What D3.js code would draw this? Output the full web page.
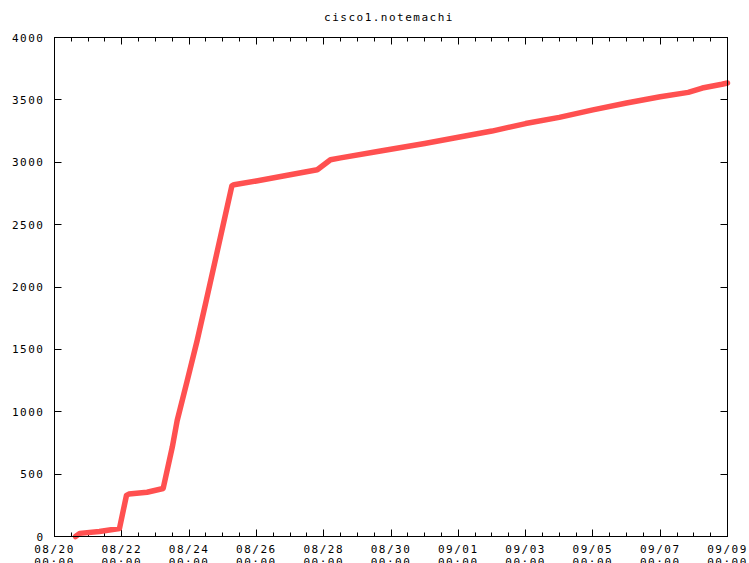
<!DOCTYPE html>
<html>
  <head>
    <title>cisco1.notemachi</title>
    <script src="https://d3js.org/d3.v7.js"></script>
    <style>
      body { margin: 0; background: #fff; }
      text { font-family: 'DejaVu Sans Mono', monospace; font-size: 11px; letter-spacing: 1.5px; fill: #000; }
    </style>
  </head>
  <body>
    <svg width="749" height="563"></svg>

    <script>
      (function (d3) {
        'use strict';

        const titleText = 'cisco1.notemachi';

        // sample times and counter values
        const times = [
          '2024-08-20T15:00', '2024-08-20T18:00', '2024-08-21T08:00', '2024-08-21T22:20',
          '2024-08-22T03:20', '2024-08-22T05:00', '2024-08-22T18:00', '2024-08-23T05:30',
          '2024-08-23T12:00', '2024-08-23T15:30', '2024-08-23T22:40', '2024-08-24T05:45',
          '2024-08-24T12:15', '2024-08-25T06:30', '2024-08-25T08:00', '2024-08-26T00:00',
          '2024-08-27T00:00', '2024-08-27T19:25', '2024-08-28T04:50', '2024-08-28T12:00',
          '2024-08-29T16:30', '2024-08-31T00:00', '2024-09-01T00:00', '2024-09-02T00:00',
          '2024-09-03T00:00', '2024-09-04T00:00', '2024-09-05T00:00', '2024-09-06T00:00',
          '2024-09-07T00:00', '2024-09-07T20:00', '2024-09-08T06:00', '2024-09-08T20:00',
          '2024-09-09T00:00'
        ];
        const values = [
          0, 25, 40, 64,
          330, 340, 355, 385,
          716, 930, 1250, 1571,
          1892, 2810, 2820, 2850,
          2900, 2940, 3020, 3035,
          3090, 3150, 3200, 3250,
          3310, 3360, 3420, 3475,
          3525, 3560, 3595, 3625,
          3635
        ];

        const yTicks = [0, 500, 1000, 1500, 2000, 2500, 3000, 3500, 4000];

        const parse = d3.timeParse('%Y-%m-%dT%H:%M');
        const data = times.map((t, i) => ({ t: parse(t), v: values[i] }));

        const svg = d3.select('svg');
        const margin = { top: 37, right: 22, bottom: 27, left: 54 };
        const width = +svg.attr('width');
        const height = +svg.attr('height');
        const innerWidth = width - margin.left - margin.right;
        const innerHeight = height - margin.top - margin.bottom;

        const start = parse('2024-08-20T00:00');
        const end = parse('2024-09-09T00:00');

        const xScale = d3
          .scaleTime()
          .domain([start, end])
          .range([0, innerWidth]);

        const yScale = d3
          .scaleLinear()
          .domain([0, 4000])
          .range([innerHeight, 0]);

        const g = svg
          .append('g')
          .attr('transform', `translate(${margin.left + 0.5},${margin.top + 0.5})`);

        // major ticks every 2 days, minor every 12 hours
        const majorX = d3.range(0, 11).map((i) => d3.timeDay.offset(start, 2 * i));
        const minorX = d3.range(0, 41).map((i) => d3.timeHour.offset(start, 12 * i));

        const ticks = g.append('g').attr('stroke', '#000').attr('stroke-width', 1);
        minorX.forEach((d) => {
          const x = Math.round(xScale(d));
          ticks.append('line').attr('x1', x).attr('x2', x).attr('y1', innerHeight).attr('y2', innerHeight - 4);
          ticks.append('line').attr('x1', x).attr('x2', x).attr('y1', 0).attr('y2', 4);
        });
        majorX.forEach((d) => {
          const x = Math.round(xScale(d));
          ticks.append('line').attr('x1', x).attr('x2', x).attr('y1', innerHeight).attr('y2', innerHeight - 7);
          ticks.append('line').attr('x1', x).attr('x2', x).attr('y1', 0).attr('y2', 7);
        });
        yTicks.forEach((v) => {
          const y = Math.round(yScale(v));
          ticks.append('line').attr('x1', 0).attr('x2', 7).attr('y1', y).attr('y2', y);
          ticks.append('line').attr('x1', innerWidth).attr('x2', innerWidth - 7).attr('y1', y).attr('y2', y);
        });

        // y labels
        g.append('g')
          .selectAll('text')
          .data(yTicks)
          .enter()
          .append('text')
          .attr('x', -10)
          .attr('y', (d) => yScale(d) + 4)
          .attr('text-anchor', 'end')
          .text((d) => d);

        // x labels (two lines; the second one runs off the bottom like the original)
        const fmtDate = d3.timeFormat('%m/%d');
        const fmtTime = d3.timeFormat('%H:%M');
        const xl = g.append('g')
          .selectAll('g')
          .data(majorX)
          .enter()
          .append('g')
          .attr('transform', (d) => `translate(${xScale(d)},0)`);
        xl.append('text')
          .attr('y', innerHeight + 16)
          .attr('text-anchor', 'middle')
          .text(fmtDate);
        xl.append('text')
          .attr('y', innerHeight + 29)
          .attr('text-anchor', 'middle')
          .text(fmtTime);

        // the series
        const line = d3
          .line()
          .x((d) => xScale(d.t))
          .y((d) => yScale(d.v));

        g.append('path')
          .datum(data)
          .attr('fill', 'none')
          .attr('stroke', '#ff5050')
          .attr('stroke-width', 5.5)
          .attr('stroke-linejoin', 'round')
          .attr('stroke-linecap', 'round')
          .attr('d', line);

        // frame
        g.append('rect')
          .attr('width', innerWidth)
          .attr('height', innerHeight)
          .attr('fill', 'none')
          .attr('stroke', '#000');

        svg.append('text')
          .attr('x', 389)
          .attr('y', 21)
          .attr('text-anchor', 'middle')
          .text(titleText);
      })(d3);
    </script>
  </body>
</html>
